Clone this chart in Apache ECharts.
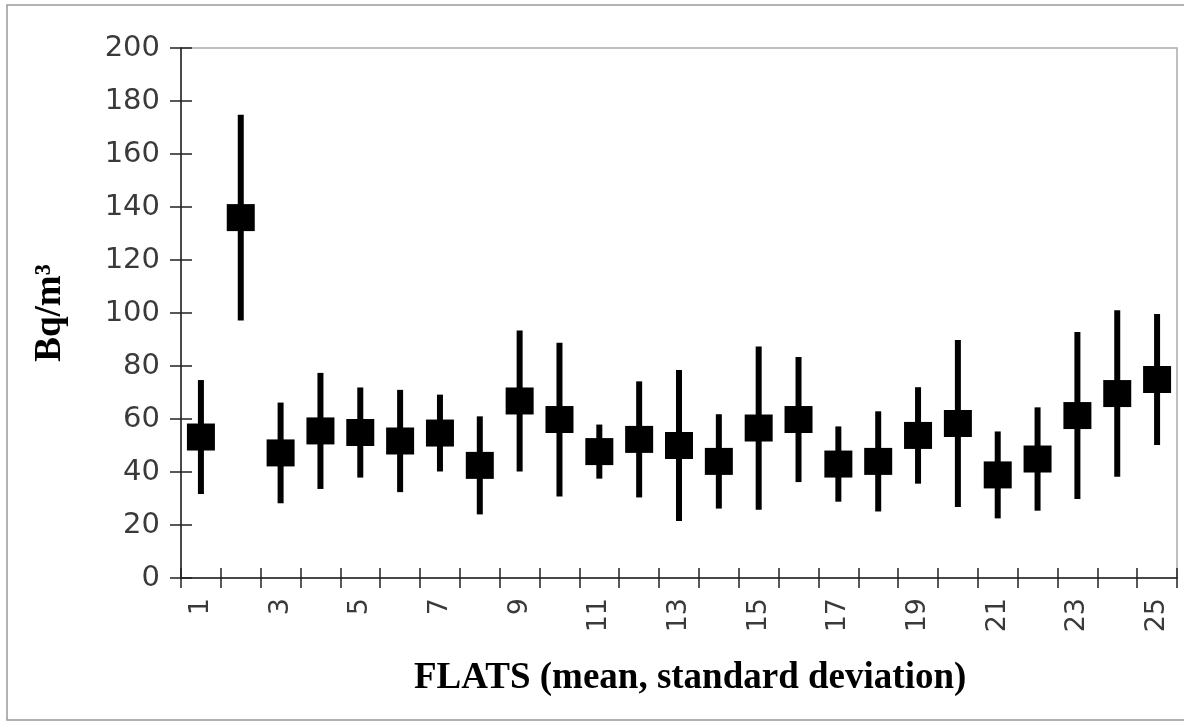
<!DOCTYPE html>
<html>
<head>
<meta charset="utf-8">
<script src="https://cdn.jsdelivr.net/npm/echarts@6/dist/echarts.min.js"></script>
<style>
  html, body { margin: 0; padding: 0; background: #fff; }
  #chart { width: 1184px; height: 724px; }
</style>
</head>
<body>
<div id="chart"></div>
<script>
// flats 1..25
const flats = ['1', '2', '3', '4', '5', '6', '7', '8', '9', '10', '11', '12', '13',
  '14', '15', '16', '17', '18', '19', '20', '21', '22', '23', '24', '25'];
// mean radon concentration, Bq/m3
const means = [53.2, 136, 47.2, 55.5, 54.9, 51.7, 54.7, 42.5, 66.8, 59.8, 47.7, 52.3, 50,
  44, 56.6, 59.8, 43, 44, 53.8, 58.3, 38.9, 44.9, 61.3, 69.6, 74.9];
// standard deviation
const sds = [21.5, 38.8, 19, 21.9, 17, 19.3, 14.5, 18.5, 26.6, 29, 10.2, 21.9, 28.5,
  17.8, 30.8, 23.6, 14.2, 18.9, 18.2, 31.5, 16.4, 19.5, 31.5, 31.4, 24.7];

const chart = echarts.init(document.getElementById('chart'));

const errData = means.map((m, i) => [i, m - sds[i], m + sds[i]]);
const pointData = means.map((m, i) => [i, m]);

const tickStyle = { color: '#222', width: 1.5 };

const option = {
  animation: false,
  backgroundColor: '#fff',
  grid: {
    left: 181, right: 7, top: 48, bottom: 146,
    show: true, borderColor: '#aaa', borderWidth: 1.5
  },
  xAxis: [
    {
      type: 'category',
      data: flats,
      boundaryGap: true,
      axisLine: { lineStyle: tickStyle },
      axisTick: { show: true, interval: 0, length: 10, lineStyle: tickStyle },
      axisLabel: {
        interval: 1, rotate: 90, margin: 20,
        fontFamily: 'DejaVu Sans', fontSize: 27, color: '#3a3a3a'
      },
      splitLine: { show: false }
    },
    {
      // second copy only for the inner half of the crossing ticks
      type: 'category',
      data: flats,
      position: 'bottom',
      boundaryGap: true,
      axisLine: { show: false },
      axisTick: { show: true, inside: true, interval: 0, length: 10, lineStyle: tickStyle },
      axisLabel: { show: false },
      splitLine: { show: false }
    }
  ],
  yAxis: [
    {
      type: 'value',
      min: 0, max: 200, interval: 20,
      name: 'Bq/m³',
      nameLocation: 'middle',
      nameGap: 112,
      nameTextStyle: { fontFamily: 'Liberation Serif', fontWeight: 'bold', fontSize: 37, color: '#000' },
      axisLine: { show: true, lineStyle: tickStyle },
      axisTick: { show: true, length: 11, lineStyle: tickStyle },
      axisLabel: { margin: 21, fontFamily: 'DejaVu Sans', fontSize: 29, color: '#3a3a3a' },
      splitLine: { show: false }
    },
    {
      type: 'value',
      min: 0, max: 200, interval: 20,
      position: 'left',
      axisLine: { show: false },
      axisTick: { show: true, inside: true, length: 11, lineStyle: tickStyle },
      axisLabel: { show: false },
      splitLine: { show: false }
    }
  ],
  graphic: [
    {
      type: 'rect',
      shape: { x: 7, y: 5, width: 1190, height: 715 },
      style: { fill: 'none', stroke: '#999', lineWidth: 1.5 },
      silent: true
    },
    {
      type: 'text',
      left: 414,
      top: 660,
      style: {
        text: 'FLATS (mean, standard deviation)',
        font: 'bold 37px "Liberation Serif"',
        fill: '#000'
      }
    }
  ],
  series: [
    {
      type: 'custom',
      xAxisIndex: 0,
      yAxisIndex: 0,
      data: errData,
      renderItem: function (params, api) {
        const lo = api.coord([api.value(0), api.value(1)]);
        const hi = api.coord([api.value(0), api.value(2)]);
        return {
          type: 'line',
          shape: { x1: lo[0], y1: lo[1], x2: hi[0], y2: hi[1] },
          style: { stroke: '#000', lineWidth: 6 }
        };
      },
      z: 2
    },
    {
      type: 'scatter',
      xAxisIndex: 0,
      yAxisIndex: 0,
      data: pointData,
      symbol: 'rect',
      symbolSize: [28, 27],
      itemStyle: { color: '#000', opacity: 1 },
      z: 3
    }
  ]
};

chart.setOption(option);
</script>
</body>
</html>
